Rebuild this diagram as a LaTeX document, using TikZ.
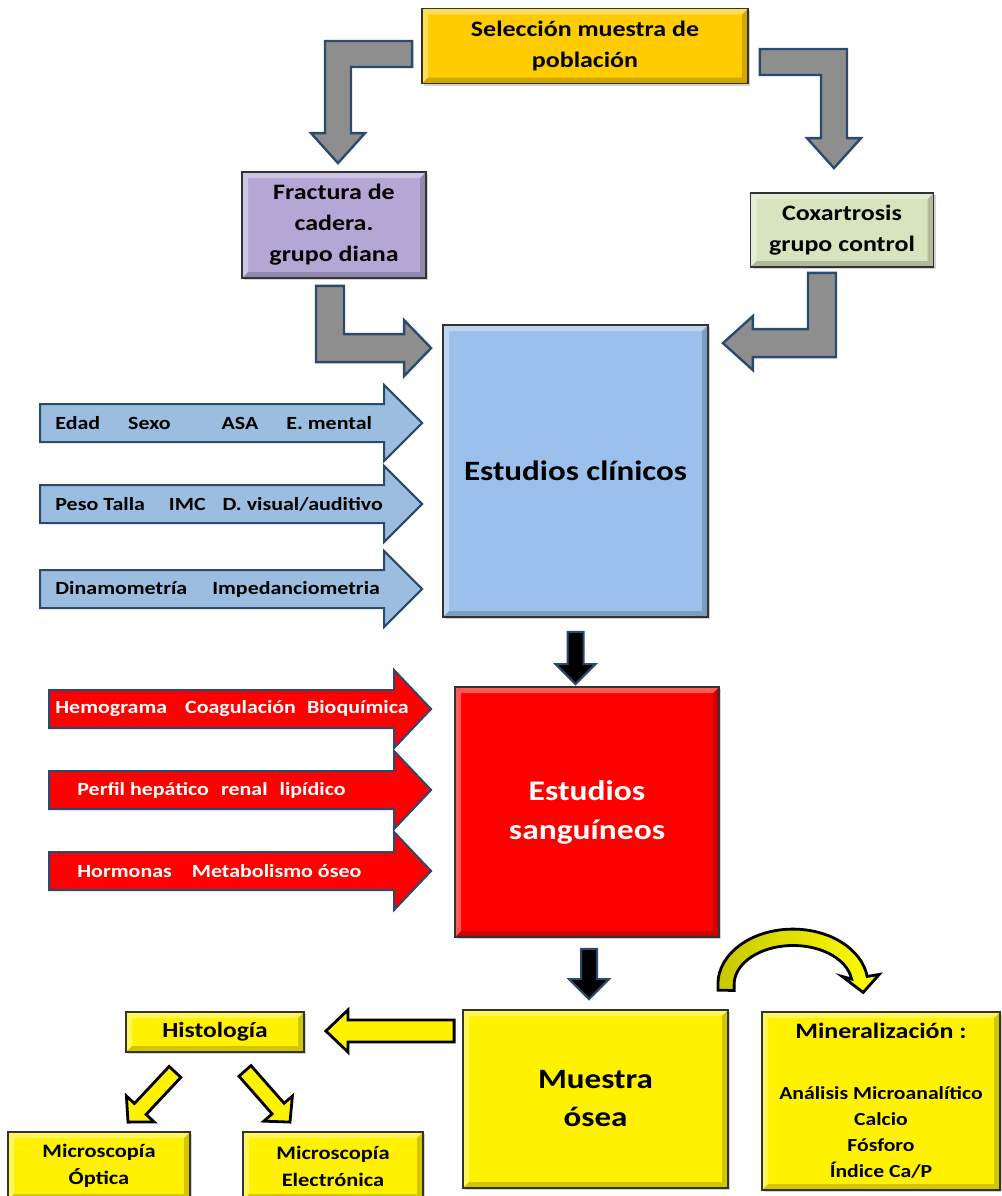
\documentclass[tikz,border=0pt]{standalone}
\usepackage{fontspec}
\setmainfont{Carlito}[FakeStretch=1.18]
\usepackage{tikz}
\usetikzlibrary{calc,shadows}

\definecolor{selgold}{HTML}{FFCC00}
\definecolor{lavender}{HTML}{B4A7D6}
\definecolor{palegreen}{HTML}{D7E4BD}
\definecolor{clinblue}{HTML}{9CC0EC}
\definecolor{arrowblue}{HTML}{9BBDE0}
\definecolor{edgeblue}{HTML}{2C4A6E}
\definecolor{shaftgray}{HTML}{8E8E8E}

\begin{document}
\begin{tikzpicture}[
  x=0.5pt, y=-0.5pt,
  bevel/.style={path picture={
    \fill[white, opacity=.35] (path picture bounding box.south west)
      -- (path picture bounding box.north west) -- (path picture bounding box.north east)
      -- ([shift={(-3pt,-3pt)}]path picture bounding box.north east)
      -- ([shift={(3pt,-3pt)}]path picture bounding box.north west)
      -- ([shift={(3pt,3pt)}]path picture bounding box.south west) -- cycle;
    \fill[black, opacity=.18] (path picture bounding box.south west)
      -- (path picture bounding box.south east) -- (path picture bounding box.north east)
      -- ([shift={(-3pt,-3pt)}]path picture bounding box.north east)
      -- ([shift={(-3pt,3pt)}]path picture bounding box.south east)
      -- ([shift={(3pt,3pt)}]path picture bounding box.south west) -- cycle;}},
  box/.style={draw=black!80, line width=0.9pt, align=center, inner sep=0pt,
    bevel, drop shadow={shadow xshift=1.2pt, shadow yshift=-1.2pt, opacity=0.35}},
  garrow/.style={fill=shaftgray, draw=edgeblue, line width=1.2pt},
  karrow/.style={fill=black, draw=edgeblue, line width=1pt},
  barrow/.style={fill=arrowblue, draw=edgeblue, line width=1pt},
  rarrow/.style={fill=red, draw=edgeblue, line width=1pt},
  yarrow/.style={fill=yellow, draw=black, line width=1.4pt},
  lab/.style={anchor=west, inner sep=0pt, font=\bfseries\fontsize{9.3}{11}\selectfont},
]
\useasboundingbox (0,0) rectangle (1002,1196);

% boxes
\node[box, fill=selgold, minimum width=163pt, minimum height=37.5pt,
  font=\bfseries\fontsize{11}{15.5}\selectfont] (sel) at (585,46) {Selección muestra de\\población};
\node[box, fill=lavender, minimum width=92pt, minimum height=53pt,
  font=\bfseries\fontsize{11}{15.5}\selectfont] (frac) at (334,225) {Fractura de\\cadera.\\grupo diana};
\node[box, fill=palegreen, minimum width=91.5pt, minimum height=37pt,
  font=\bfseries\fontsize{11}{15.5}\selectfont] (cox) at (842,230) {Coxartrosis\\grupo control};
\node[box, fill=clinblue, minimum width=132.5pt, minimum height=146pt,
  font=\bfseries\fontsize{14}{17}\selectfont] (clin) at (575.5,471) {Estudios clínicos};
\node[box, fill=red, text=white, minimum width=132pt, minimum height=125pt,
  font=\bfseries\fontsize{14.2}{19.5}\selectfont] (sang) at (587,812) {Estudios\\sanguíneos};
\node[box, fill=yellow, minimum width=132.5pt, minimum height=89pt,
  font=\bfseries\fontsize{14}{19}\selectfont] (osea) at (595.5,1099) {Muestra\\ósea};
\node[box, fill=yellow, minimum width=119pt, minimum height=89pt,
  font=\bfseries\fontsize{9.2}{13}\selectfont] (mineral) at (881,1101)
  {{\fontsize{11}{13}\selectfont Mineralización :}\\[17.5pt]Análisis Microanalítico\\Calcio\\Fósforo\\Índice Ca/P};
\node[box, fill=yellow, minimum width=89pt, minimum height=20pt,
  font=\bfseries\fontsize{10.8}{13}\selectfont] (hist) at (215,1032) {Histología};
\node[box, fill=yellow, minimum width=91pt, minimum height=34pt,
  font=\bfseries\fontsize{9.5}{13.5}\selectfont] (opt) at (99,1166) {Microscopía\\Óptica};
\node[box, fill=yellow, minimum width=90pt, minimum height=34pt,
  font=\bfseries\fontsize{9.5}{13.5}\selectfont] (elec) at (333,1166) {Microscopía\\Electrónica};

% selection -> groups
\coordinate (s1) at ($(sel.west)+(-9,8)$);
\coordinate (t1) at ($(frac.north)+(4,-8)$);
\filldraw[garrow] ($(s1)+(0,-13)$) -- ($(s1 -| t1)+(-13,-13)$) -- ($(t1)+(-13,-30)$)
  -- ($(t1)+(-27,-30)$) -- (t1) -- ($(t1)+(27,-30)$) -- ($(t1)+(13,-30)$)
  -- ($(s1 -| t1)+(13,13)$) -- ($(s1)+(0,13)$) -- cycle;
\coordinate (s2) at ($(sel.east)+(11,16)$);
\coordinate (t2) at ($(cox.north)+(-8,-24)$);
\filldraw[garrow] ($(s2)+(0,-13)$) -- ($(s2 -| t2)+(13,-13)$) -- ($(t2)+(13,-30)$)
  -- ($(t2)+(27,-30)$) -- (t2) -- ($(t2)+(-27,-30)$) -- ($(t2)+(-13,-30)$)
  -- ($(s2 -| t2)+(-13,13)$) -- ($(s2)+(0,13)$) -- cycle;

% groups -> clinical studies
\coordinate (s3) at ($(frac.south)+(-4,7)$);
\coordinate (t3) at ($(clin.north west)+(-11,24)$);
\filldraw[garrow] ($(s3)+(-14,0)$) -- ($(s3 |- t3)+(-14,14)$) -- ($(t3)+(-27,14)$)
  -- ($(t3)+(-27,28)$) -- (t3) -- ($(t3)+(-27,-28)$) -- ($(t3)+(-27,-14)$)
  -- ($(s3 |- t3)+(14,-14)$) -- ($(s3)+(14,0)$) -- cycle;
\coordinate (s4) at ($(cox.south)+(-20,5)$);
\coordinate (t4) at ($(clin.north east)+(14,19)$);
\filldraw[garrow] ($(s4)+(14,0)$) -- ($(s4 |- t4)+(14,14)$) -- ($(t4)+(30,14)$)
  -- ($(t4)+(30,27)$) -- (t4) -- ($(t4)+(30,-27)$) -- ($(t4)+(30,-14)$)
  -- ($(s4 |- t4)+(-14,-14)$) -- ($(s4)+(-14,0)$) -- cycle;

% clinical data arrows
\foreach \y/\txt [count=\i] in {
  423/{Edad\hspace{14pt}Sexo\hspace{25.5pt}ASA\hspace{14pt}E. mental},
  504/{Peso Talla\hspace{12pt}IMC\hspace{8.5pt}D. visual/auditivo},
  589/{Dinamometría\hspace{12.5pt}Impedanciometria}} {
  \coordinate (bt\i) at (40,\y);
  \coordinate (bh\i) at ($(bt\i -| clin.west)+(-20,0)$);
  \filldraw[barrow] ($(bt\i)+(0,-19)$) -- ($(bh\i)+(-38,-19)$) -- ($(bh\i)+(-38,-38)$)
    -- (bh\i) -- ($(bh\i)+(-38,38)$) -- ($(bh\i)+(-38,19)$) -- ($(bt\i)+(0,19)$) -- cycle;
  \node[lab] (bl\i) at ($(bt\i)+(15,0)$) {\txt};
}

% blood data arrows
\foreach \y/\dx/\txt [count=\i] in {
  709/6/{Hemograma\hspace{9pt}Coagulación\hspace{5.5pt}Bioquímica},
  790/28/{Perfil hepático\hspace{6pt}renal\hspace{6pt}lipídico},
  871/28/{Hormonas\hspace{10pt}Metabolismo óseo}} {
  \coordinate (rt\i) at (49,\y);
  \coordinate (rh\i) at ($(rt\i -| sang.west)+(-23,0)$);
  \filldraw[rarrow] ($(rt\i)+(0,-19)$) -- ($(rh\i)+(-37,-19)$) -- ($(rh\i)+(-37,-39)$)
    -- (rh\i) -- ($(rh\i)+(-37,39)$) -- ($(rh\i)+(-37,19)$) -- ($(rt\i)+(0,19)$) -- cycle;
  \node[lab, text=white] (rl\i) at ($(rt\i)+(\dx,0)$) {\txt};
}

% down arrows
\coordinate (k1) at ($(clin.south)+(0,14)$);
\coordinate (k1t) at ($(k1 |- sang.north)+(0,-2)$);
\filldraw[karrow] ($(k1)+(-8,0)$) -- ($(k1t)+(-8,-20)$) -- ($(k1t)+(-20,-20)$) -- (k1t)
  -- ($(k1t)+(20,-20)$) -- ($(k1t)+(8,-20)$) -- ($(k1)+(8,0)$) -- cycle;
\coordinate (k2) at ($(sang.south)+(2,11)$);
\coordinate (k2t) at ($(k2 |- osea.north)+(0,-10)$);
\filldraw[karrow] ($(k2)+(-8,0)$) -- ($(k2t)+(-8,-20)$) -- ($(k2t)+(-20,-20)$) -- (k2t)
  -- ($(k2t)+(20,-20)$) -- ($(k2t)+(8,-20)$) -- ($(k2)+(8,0)$) -- cycle;

% bone sample -> histology
\coordinate (y1) at ($(osea.west |- hist.east)+(-8,-1)$);
\coordinate (y1t) at ($(hist.east)+(21,-1)$);
\filldraw[yarrow] ($(y1)+(0,-11)$) -- ($(y1t)+(22,-11)$) -- ($(y1t)+(22,-21)$) -- (y1t)
  -- ($(y1t)+(22,21)$) -- ($(y1t)+(22,11)$) -- ($(y1)+(0,11)$) -- cycle;

% histology -> microscopy
\coordinate (d1) at ($(hist.south)+(-40,19)$);
\coordinate (d1t) at ($(opt.north)+(29,-9)$);
\coordinate (d1c) at ($(d1t)!9pt!(d1)$);
\filldraw[yarrow] ($(d1)!4pt!90:(d1t)$) -- ($(d1c)!4pt!90:(d1t)$) -- ($(d1c)!9.5pt!90:(d1t)$)
  -- (d1t) -- ($(d1c)!9.5pt!-90:(d1t)$) -- ($(d1c)!4pt!-90:(d1t)$) -- ($(d1)!4pt!-90:(d1t)$) -- cycle;
\coordinate (d2) at ($(hist.south)+(30,18)$);
\coordinate (d2t) at ($(elec.north)+(-43,-9)$);
\coordinate (d2c) at ($(d2t)!9pt!(d2)$);
\filldraw[yarrow] ($(d2)!4pt!90:(d2t)$) -- ($(d2c)!4pt!90:(d2t)$) -- ($(d2c)!9.5pt!90:(d2t)$)
  -- (d2t) -- ($(d2c)!9.5pt!-90:(d2t)$) -- ($(d2c)!4pt!-90:(d2t)$) -- ($(d2)!4pt!-90:(d2t)$) -- cycle;

% bone sample -> mineralization (curved)
\coordinate (cv) at ($(osea.north east)+(-11,-19)$);
\filldraw[draw=black, line width=1.4pt, left color=yellow!78!black, right color=yellow]
  (cv) -- ++(0,-6) arc[start angle=180, end angle=8, x radius=37.5pt, y radius=27.5pt]
  -- ++(12,-2) -- ++(-16,18) -- ++(-21,-16) -- ++(9.4,2.6)
  arc[start angle=8, end angle=180, x radius=29.5pt, y radius=19.5pt] -- ++(0,6) -- cycle;
\end{tikzpicture}
\end{document}
